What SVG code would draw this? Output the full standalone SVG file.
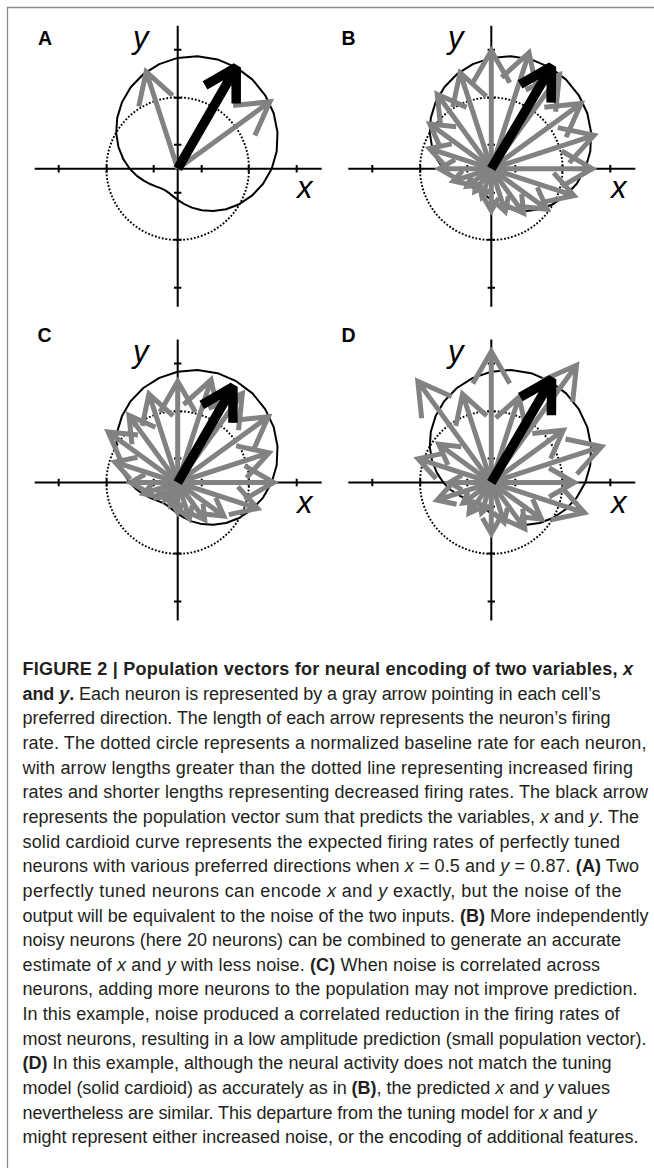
<svg xmlns="http://www.w3.org/2000/svg" xmlns:xlink="http://www.w3.org/1999/xlink" width="654" height="1168" viewBox="0 0 654 1168">
<style>
.ax{stroke:#000;stroke-width:2;fill:none}
.dot{stroke:#000;stroke-width:1.9;stroke-dasharray:1.8 1.8;fill:none}
.card{stroke:#000;stroke-width:2;fill:none;stroke-linejoin:round}
.gr path{stroke:#828282;stroke-width:5;fill:none;stroke-linejoin:miter}
.blk{stroke:#000;stroke-width:9.5;fill:none;stroke-linejoin:bevel}
.lab{font-family:"Liberation Sans",Arial,sans-serif;font-weight:bold;font-size:19.5px;fill:#000}
.axl{font-family:"Liberation Sans",Arial,sans-serif;font-style:italic;font-size:31px;fill:#000}
.cap{font-family:"Liberation Sans",Arial,sans-serif;font-size:18px;fill:#231f20}
.b{font-weight:bold}
.i{font-style:italic}
</style>
<defs>
<g id="axes" class="ax">
<path d="M-143,0H144M0,-143V138"/>
<path d="M-119,-3.7V3.7M-71,-3.7V3.7M-24,-3.7V3.7M24,-3.7V3.7M71,-3.7V3.7M119,-3.7V3.7"/>
<path d="M-3.7,-119H3.7M-3.7,-71H3.7M-3.7,-24H3.7M-3.7,24H3.7M-3.7,71H3.7M-3.7,119H3.7"/>
</g>
<circle id="dotc" class="dot" r="71.3"/>
<path id="card" class="card" d="M94,0L99,-17.5L99.8,-36.3L96,-55.4L87.5,-73.4L74.8,-89.1L58.5,-101.3L39.8,-109.3L19.8,-112.5L0,-110.8L-18.4,-104.6L-34.4,-94.5L-47,-81.4L-55.7,-66.4L-60.5,-50.8L-61.5,-35.5L-59.2,-21.6L-54.4,-9.6L-48,0L-40.8,7.2L-33.6,12.2L-27,15.6L-21.3,17.9L-16.5,19.7L-12.5,21.7L-8.8,24.2L-4.8,27.4L0,31.2L6.2,35.2L14.2,38.9L24,41.6L35.5,42.3L48.3,40.5L61.5,35.5L74.2,27L85.4,15.1Z"/>
</defs>

<path id="frame" d="M7.5,1168V7.5H654" stroke="#8a8a8a" stroke-width="1.3" fill="none"/>

<g id="panel-a" transform="translate(177.7,168.7)">
<use href="#axes"/>
<use href="#dotc"/>
<use href="#card"/>
<g class="gr">
<path transform="rotate(-108)" d="M0,0H102M71.1,-17.85L102,0L71.1,17.85"/>
<path transform="rotate(-36)" d="M0,0H114M81.96,-18.5L114,0L81.96,18.5"/>
</g>
<path class="blk" transform="rotate(-60)" d="M0,0H117M85.8,-18L117,0L85.8,18"/>
</g>

<g id="panel-b" transform="translate(491.3,168.7)">
<use href="#axes"/>
<use href="#dotc"/>
<use href="#card"/>
<g class="gr">
<path d="M0,0H101M70.39,-17.68L101,0L70.39,17.68"/>
<path transform="rotate(-18)" d="M0,0H108M75.96,-18.5L108,0L75.96,18.5"/>
<path transform="rotate(-36)" d="M0,0H111M78.96,-18.5L111,0L78.96,18.5"/>
<path transform="rotate(-54)" d="M0,0H116M83.96,-18.5L116,0L83.96,18.5"/>
<path transform="rotate(-72)" d="M0,0H122M89.96,-18.5L122,0L89.96,18.5"/>
<path transform="rotate(-90)" d="M0,0H118M85.96,-18.5L118,0L85.96,18.5"/>
<path transform="rotate(-108)" d="M0,0H101M70.39,-17.68L101,0L70.39,17.68"/>
<path transform="rotate(-126)" d="M0,0H92M64.11,-16.1L92,0L64.11,16.1"/>
<path transform="rotate(-144)" d="M0,0H76M52.96,-13.3L76,0L52.96,13.3"/>
<path transform="rotate(-162)" d="M0,0H65M45.3,-11.38L65,0L45.3,11.38"/>
<path transform="rotate(-180)" d="M0,0H52M36.24,-9.1L52,0L36.24,9.1"/>
<path transform="rotate(-198)" d="M0,0H40M27.88,-7L40,0L27.88,7"/>
<path transform="rotate(-216)" d="M0,0H30M20.91,-5.25L30,0L20.91,5.25"/>
<path transform="rotate(-234)" d="M0,0H28M19.51,-4.9L28,0L19.51,4.9"/>
<path transform="rotate(-252)" d="M0,0H30M20.91,-5.25L30,0L20.91,5.25"/>
<path transform="rotate(-270)" d="M0,0H42M29.27,-7.35L42,0L29.27,7.35"/>
<path transform="rotate(-288)" d="M0,0H45M31.36,-7.88L45,0L31.36,7.88"/>
<path transform="rotate(-306)" d="M0,0H55M38.33,-9.63L55,0L38.33,9.63"/>
<path transform="rotate(-324)" d="M0,0H69M48.09,-12.08L69,0L48.09,12.08"/>
<path transform="rotate(-342)" d="M0,0H87M60.63,-15.23L87,0L60.63,15.23"/>
</g>
<path class="blk" transform="rotate(-59.5)" d="M0,0H118.5M87.32,-18L118.5,0L87.32,18"/>
</g>

<g id="panel-c" transform="translate(177.7,482.5)">
<use href="#axes"/>
<use href="#dotc"/>
<use href="#card"/>
<g class="gr">
<path d="M0,0H96M66.9,-16.8L96,0L66.9,16.8"/>
<path transform="rotate(-18)" d="M0,0H96M66.9,-16.8L96,0L66.9,16.8"/>
<path transform="rotate(-36)" d="M0,0H112M79.96,-18.5L112,0L79.96,18.5"/>
<path transform="rotate(-54)" d="M0,0H110M77.96,-18.5L110,0L77.96,18.5"/>
<path transform="rotate(-72)" d="M0,0H108M75.96,-18.5L108,0L75.96,18.5"/>
<path transform="rotate(-90)" d="M0,0H101M70.39,-17.68L101,0L70.39,17.68"/>
<path transform="rotate(-108)" d="M0,0H93M64.81,-16.28L93,0L64.81,16.28"/>
<path transform="rotate(-126)" d="M0,0H83M57.84,-14.53L83,0L57.84,14.53"/>
<path transform="rotate(-144)" d="M0,0H86M59.93,-15.05L86,0L59.93,15.05"/>
<path transform="rotate(-162)" d="M0,0H66M46,-11.55L66,0L46,11.55"/>
<path transform="rotate(-180)" d="M0,0H47M32.75,-8.23L47,0L32.75,8.23"/>
<path transform="rotate(-198)" d="M0,0H36M25.09,-6.3L36,0L25.09,6.3"/>
<path transform="rotate(-216)" d="M0,0H26M18.12,-4.55L26,0L18.12,4.55"/>
<path transform="rotate(-234)" d="M0,0H22M15.33,-3.85L22,0L15.33,3.85"/>
<path transform="rotate(-252)" d="M0,0H24M16.73,-4.2L24,0L16.73,4.2"/>
<path transform="rotate(-270)" d="M0,0H30M20.91,-5.25L30,0L20.91,5.25"/>
<path transform="rotate(-288)" d="M0,0H38M26.48,-6.65L38,0L26.48,6.65"/>
<path transform="rotate(-306)" d="M0,0H46M32.06,-8.05L46,0L32.06,8.05"/>
<path transform="rotate(-324)" d="M0,0H57M39.72,-9.98L57,0L39.72,9.98"/>
<path transform="rotate(-342)" d="M0,0H84M58.54,-14.7L84,0L58.54,14.7"/>
</g>
<path class="blk" transform="rotate(-60)" d="M0,0H110.5M79.32,-18L110.5,0L79.32,18"/>
</g>

<g id="panel-d" transform="translate(491.3,482.5)">
<use href="#axes"/>
<use href="#dotc"/>
<use href="#card"/>
<g class="gr">
<path d="M0,0H83M57.84,-14.53L83,0L57.84,14.53"/>
<path transform="rotate(-18)" d="M0,0H116M83.96,-18.5L116,0L83.96,18.5"/>
<path transform="rotate(-36)" d="M0,0H89M62.02,-15.58L89,0L62.02,15.58"/>
<path transform="rotate(-54)" d="M0,0H145M112.96,-18.5L145,0L112.96,18.5"/>
<path transform="rotate(-72)" d="M0,0H90M62.72,-15.75L90,0L62.72,15.75"/>
<path transform="rotate(-90)" d="M0,0H131M98.96,-18.5L131,0L98.96,18.5"/>
<path transform="rotate(-108)" d="M0,0H93M64.81,-16.28L93,0L64.81,16.28"/>
<path transform="rotate(-126)" d="M0,0H125M92.96,-18.5L125,0L92.96,18.5"/>
<path transform="rotate(-144)" d="M0,0H65M45.3,-11.38L65,0L45.3,11.38"/>
<path transform="rotate(-162)" d="M0,0H77M53.66,-13.48L77,0L53.66,13.48"/>
<path transform="rotate(-180)" d="M0,0H42M29.27,-7.35L42,0L29.27,7.35"/>
<path transform="rotate(-198)" d="M0,0H57M39.72,-9.98L57,0L39.72,9.98"/>
<path transform="rotate(-216)" d="M0,0H35M24.39,-6.13L35,0L24.39,6.13"/>
<path transform="rotate(-234)" d="M0,0H38M26.48,-6.65L38,0L26.48,6.65"/>
<path transform="rotate(-252)" d="M0,0H32M22.3,-5.6L32,0L22.3,5.6"/>
<path transform="rotate(-270)" d="M0,0H51M35.54,-8.93L51,0L35.54,8.93"/>
<path transform="rotate(-288)" d="M0,0H42M29.27,-7.35L42,0L29.27,7.35"/>
<path transform="rotate(-306)" d="M0,0H57M39.72,-9.98L57,0L39.72,9.98"/>
<path transform="rotate(-324)" d="M0,0H62M43.21,-10.85L62,0L43.21,10.85"/>
<path transform="rotate(-342)" d="M0,0H98M68.3,-17.15L98,0L68.3,17.15"/>
</g>
<path class="blk" transform="rotate(-59.7)" d="M0,0H119.5M88.32,-18L119.5,0L88.32,18"/>
</g>

<g id="labels">
<text class="lab" x="38" y="44.5">A</text>
<text class="lab" x="341.5" y="44.5">B</text>
<text class="lab" x="37.5" y="341.5">C</text>
<text class="lab" x="341.5" y="341.5">D</text>
<text class="axl" x="133" y="48">y</text>
<text class="axl" x="297" y="198">x</text>
<text class="axl" x="448" y="48">y</text>
<text class="axl" x="611" y="198">x</text>
<text class="axl" x="133" y="362">y</text>
<text class="axl" x="297" y="513">x</text>
<text class="axl" x="448" y="362">y</text>
<text class="axl" x="611" y="513">x</text>
</g>

<g id="caption" class="cap">
<text x="22.5" y="675" textLength="610.5"><tspan class="b">FIGURE 2 | Population vectors for neural encoding of two variables, <tspan class="i">x</tspan></tspan></text>
<text x="22.5" y="699.65" textLength="578"><tspan class="b">and <tspan class="i">y</tspan>.</tspan> Each neuron is represented by a gray arrow pointing in each cell’s</text>
<text x="22.5" y="724.3" textLength="588">preferred direction. The length of each arrow represents the neuron’s firing</text>
<text x="22.5" y="748.95" textLength="624">rate. The dotted circle represents a normalized baseline rate for each neuron,</text>
<text x="22.5" y="773.6" textLength="610.5">with arrow lengths greater than the dotted line representing increased firing</text>
<text x="22.5" y="798.25" textLength="625.5">rates and shorter lengths representing decreased firing rates. The black arrow</text>
<text x="22.5" y="822.9" textLength="616.5">represents the population vector sum that predicts the variables, <tspan class="i">x</tspan> and <tspan class="i">y</tspan>. The</text>
<text x="22.5" y="847.55" textLength="597.5">solid cardioid curve represents the expected firing rates of perfectly tuned</text>
<text x="22.5" y="872.2" textLength="616.5">neurons with various preferred directions when <tspan class="i">x</tspan> = 0.5 and <tspan class="i">y</tspan> = 0.87. <tspan class="b">(A)</tspan> Two</text>
<text x="22.5" y="896.85" textLength="599">perfectly tuned neurons can encode <tspan class="i">x</tspan> and <tspan class="i">y</tspan> exactly, but the noise of the</text>
<text x="22.5" y="921.5" textLength="626">output will be equivalent to the noise of the two inputs. <tspan class="b">(B)</tspan> More independently</text>
<text x="22.5" y="946.15" textLength="598.5">noisy neurons (here 20 neurons) can be combined to generate an accurate</text>
<text x="22.5" y="970.8" textLength="577.5">estimate of <tspan class="i">x</tspan> and <tspan class="i">y</tspan> with less noise. <tspan class="b">(C)</tspan> When noise is correlated across</text>
<text x="22.5" y="995.45" textLength="615">neurons, adding more neurons to the population may not improve prediction.</text>
<text x="22.5" y="1020.1" textLength="597">In this example, noise produced a correlated reduction in the firing rates of</text>
<text x="22.5" y="1044.75" textLength="624">most neurons, resulting in a low amplitude prediction (small population vector).</text>
<text x="22.5" y="1069.4" textLength="589"><tspan class="b">(D)</tspan> In this example, although the neural activity does not match the tuning</text>
<text x="22.5" y="1094.05" textLength="587.5">model (solid cardioid) as accurately as in <tspan class="b">(B)</tspan>, the predicted <tspan class="i">x</tspan> and <tspan class="i">y</tspan> values</text>
<text x="22.5" y="1118.7" textLength="574">nevertheless are similar. This departure from the tuning model for <tspan class="i">x</tspan> and <tspan class="i">y</tspan></text>
<text x="22.5" y="1143.35" textLength="616">might represent either increased noise, or the encoding of additional features.</text>
</g>
</svg>
